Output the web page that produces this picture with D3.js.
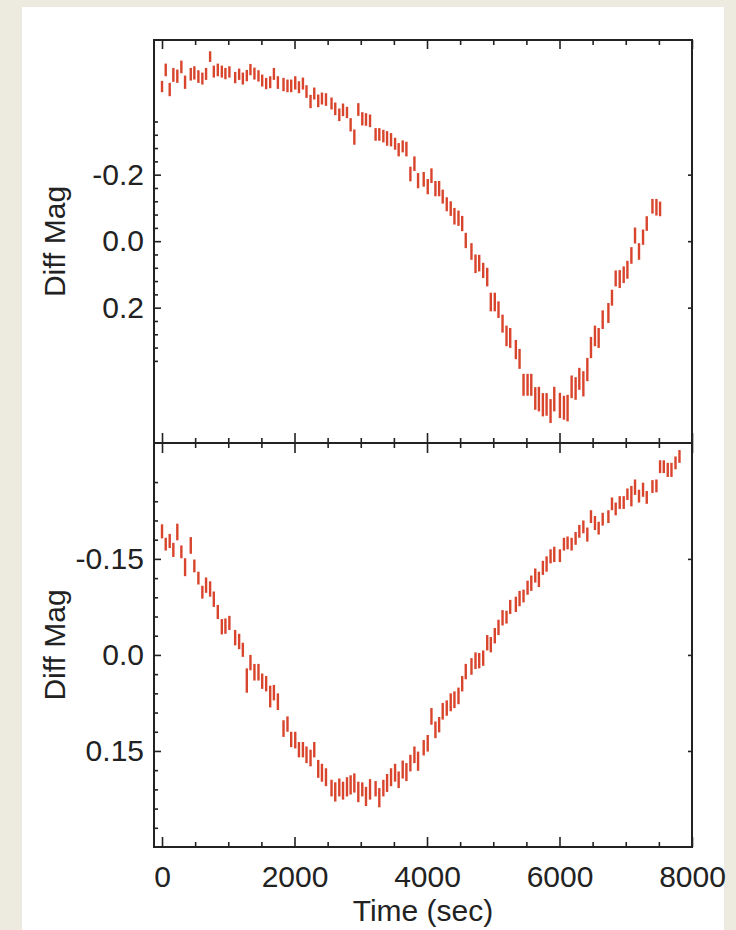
<!DOCTYPE html>
<html><head><meta charset="utf-8">
<script src="https://cdn.jsdelivr.net/npm/d3@7"></script>
<style>html,body{margin:0;padding:0;background:#edeae0;overflow:hidden}</style>
</head><body>
<svg id="chart" width="736" height="930"></svg>
<script>
// ---------- data ----------
const timeSec = [0,56,116,171,231,292,348,434,488,549,
609,665,726,782,842,903,957,1017,1104,1164,
1220,1280,1335,1395,1456,1512,1572,1633,1689,1749,
1834,1894,1950,2011,2067,2127,2181,2242,2298,2358,
2414,2475,2559,2615,2676,2732,2792,2847,2903,2963,
3023,3079,3140,3224,3280,3341,3397,3457,3518,3572,
3633,3689,3749,3810,3865,3950,4011,4067,4127,4183,
4237,4298,4358,4414,4475,4531,4585,4671,4732,4788,
4848,4909,4963,5023,5079,5140,5200,5256,5341,5397,
5457,5518,5574,5634,5689,5749,5805,5865,5921,6006,
6067,6122,6183,6243,6299,6360,6420,6475,6535,6591,
6652,6738,6792,6848,6909,6969,7025,7085,7140,7200,
7261,7317,7403,7463,7518,7574,7634,7690,7751,7811];

const magTop = [-0.465,-0.515,-0.456,-0.500,-0.496,-0.524,-0.478,-0.502,-0.506,-0.495,
-0.489,-0.503,-0.555,-0.510,-0.515,-0.510,-0.504,-0.509,-0.492,-0.502,
-0.489,-0.498,-0.516,-0.504,-0.497,-0.483,-0.474,-0.478,-0.503,-0.477,
-0.471,-0.467,-0.467,-0.476,-0.463,-0.474,-0.450,-0.420,-0.444,-0.422,
-0.429,-0.426,-0.414,-0.398,-0.380,-0.395,-0.387,-0.350,-0.313,-0.396,
-0.368,-0.366,-0.362,-0.321,-0.321,-0.316,-0.309,-0.305,-0.293,-0.275,
-0.285,-0.277,-0.202,-0.233,-0.182,-0.186,-0.164,-0.197,-0.158,-0.158,
-0.134,-0.111,-0.098,-0.075,-0.069,-0.053,-0.002,0.031,0.068,0.066,
0.088,0.108,0.183,0.183,0.206,0.248,0.285,0.291,0.326,0.354,
0.432,0.432,0.432,0.473,0.475,0.492,0.491,0.511,0.475,0.494,
0.501,0.502,0.438,0.443,0.414,0.429,0.386,0.320,0.285,0.291,
0.236,0.216,0.170,0.112,0.114,0.101,0.086,0.043,-0.017,0.031,
-0.012,-0.053,-0.105,-0.102,-0.097];

const errTop = [0.017,0.019,0.020,0.021,0.020,0.019,0.020,0.019,0.020,0.019,
0.018,0.018,0.016,0.018,0.019,0.018,0.017,0.017,0.017,0.017,
0.018,0.017,0.017,0.018,0.017,0.018,0.017,0.018,0.018,0.019,
0.020,0.019,0.019,0.020,0.018,0.018,0.019,0.020,0.018,0.019,
0.018,0.019,0.018,0.019,0.019,0.019,0.017,0.020,0.023,0.019,
0.020,0.019,0.019,0.019,0.019,0.019,0.022,0.020,0.018,0.020,
0.018,0.022,0.022,0.022,0.023,0.022,0.023,0.022,0.023,0.023,
0.021,0.021,0.022,0.025,0.023,0.023,0.023,0.025,0.028,0.025,
0.023,0.028,0.028,0.028,0.025,0.027,0.031,0.030,0.029,0.030,
0.033,0.033,0.033,0.034,0.037,0.035,0.034,0.036,0.037,0.038,
0.036,0.040,0.034,0.034,0.033,0.038,0.035,0.032,0.031,0.030,
0.028,0.030,0.024,0.024,0.027,0.025,0.027,0.025,0.024,0.025,
0.023,0.022,0.022,0.025,0.022];

const magBottom = [-0.193,-0.173,-0.178,-0.164,-0.192,-0.161,-0.137,-0.171,-0.139,-0.120,
-0.098,-0.109,-0.103,-0.087,-0.067,-0.044,-0.045,-0.050,-0.027,-0.021,
-0.008,0.040,0.012,0.027,0.027,0.041,0.045,0.065,0.059,0.073,
0.115,0.108,0.132,0.133,0.148,0.148,0.156,0.161,0.148,0.178,
0.184,0.191,0.208,0.214,0.207,0.212,0.206,0.203,0.200,0.214,
0.210,0.221,0.210,0.209,0.223,0.208,0.200,0.191,0.184,0.195,
0.179,0.183,0.169,0.156,0.166,0.145,0.138,0.096,0.117,0.109,
0.088,0.083,0.074,0.070,0.064,0.045,0.026,0.018,0.009,0.009,
0.005,-0.019,-0.016,-0.030,-0.043,-0.058,-0.059,-0.075,-0.079,-0.088,
-0.092,-0.105,-0.112,-0.124,-0.118,-0.136,-0.142,-0.154,-0.157,-0.155,
-0.173,-0.175,-0.173,-0.182,-0.193,-0.200,-0.188,-0.216,-0.206,-0.198,
-0.212,-0.216,-0.236,-0.228,-0.238,-0.238,-0.251,-0.248,-0.262,-0.248,
-0.258,-0.246,-0.263,-0.264,-0.294,-0.294,-0.289,-0.289,-0.300,-0.310];

const errBottom = [0.011,0.010,0.011,0.011,0.013,0.010,0.014,0.013,0.010,0.010,
0.010,0.012,0.012,0.012,0.011,0.012,0.012,0.011,0.012,0.012,
0.011,0.019,0.012,0.013,0.013,0.012,0.012,0.017,0.012,0.013,
0.013,0.012,0.012,0.013,0.012,0.012,0.013,0.013,0.012,0.014,
0.014,0.014,0.013,0.015,0.014,0.014,0.015,0.015,0.015,0.016,
0.011,0.015,0.016,0.012,0.015,0.013,0.014,0.014,0.014,0.013,
0.014,0.014,0.013,0.013,0.015,0.012,0.013,0.013,0.013,0.012,
0.013,0.012,0.014,0.013,0.013,0.012,0.012,0.013,0.013,0.012,
0.012,0.012,0.012,0.012,0.012,0.012,0.010,0.011,0.012,0.012,
0.010,0.011,0.012,0.011,0.012,0.011,0.012,0.011,0.012,0.010,
0.010,0.010,0.010,0.010,0.010,0.010,0.011,0.010,0.011,0.010,
0.010,0.010,0.010,0.010,0.010,0.010,0.009,0.016,0.012,0.010,
0.011,0.010,0.010,0.010,0.010,0.010,0.011,0.011,0.010,0.010];

const xTickValues = [0,2000,4000,6000,8000];
const xTickLabels = ["0","2000","4000","6000","8000"];
const xMinorValues = [500,1000,1500,2500,3000,3500,4500,5000,5500,6500,7000,7500];
const topTickValues = [-0.2,0,0.2];
const topTickLabels = ["-0.2","0.0","0.2"];
const topMinorValues = [-0.36,-0.32,-0.28,-0.24,-0.16,-0.12,-0.08,-0.04,0.04,0.08,0.12,0.16,0.24,0.28,0.32,0.36];
const bottomTickValues = [-0.15,0,0.15];
const bottomTickLabels = ["-0.15","0.0","0.15"];
const bottomMinorValues = [-0.27,-0.24,-0.21,-0.18,-0.12,-0.09,-0.06,-0.03,0.03,0.06,0.09,0.12,0.18,0.21,0.24,0.27];
const xTitle = "Time (sec)";
const yTitle = "Diff Mag";

// ---------- layout ----------
const FONT = "'Liberation Sans', Arial, Helvetica, sans-serif";
const L = 154, R = 692, T = 40, M = 443, B = 847;
const barColor = "#d8442c";
const axisColor = "#222";

const svg = d3.select("#chart");
svg.append("rect").attr("x",22).attr("y",7).attr("width",702).attr("height",923).attr("fill","#ffffff");

const x = d3.scaleLinear().domain([-121, 8000]).range([L, R]);
const yTop = d3.scaleLinear().domain([-0.605, 0.607]).range([T, M]);
const yBot = d3.scaleLinear().domain([-0.331, 0.300]).range([M, B]);

const topData = magTop.map((m,i)=>({t: timeSec[i], m, e: errTop[i]}));
const botData = magBottom.map((m,i)=>({t: timeSec[i], m, e: errBottom[i]}));

function bars(data, y){
  svg.append("g").selectAll("line").data(data).join("line")
    .attr("x1", d=>x(d.t)).attr("x2", d=>x(d.t))
    .attr("y1", d=>y(d.m - d.e)).attr("y2", d=>y(d.m + d.e))
    .attr("stroke", barColor).attr("stroke-width", 2.4);
}
bars(topData, yTop);
bars(botData, yBot);

function style(g){
  g.select(".domain").remove();
  g.selectAll("line").attr("stroke", axisColor).attr("stroke-width", 1.6);
  g.selectAll("text").attr("font-size", 30).attr("font-family", FONT).attr("fill", "#222");
}
function addAxis(axis, tx, ty){
  const g = svg.append("g").attr("transform", `translate(${tx},${ty})`).call(axis);
  style(g);
  return g;
}
const none = () => "";

// x ticks: top of top panel
addAxis(d3.axisTop(x).tickValues(xTickValues).tickSize(-9).tickFormat(none), 0, T);
addAxis(d3.axisTop(x).tickValues(xMinorValues).tickSize(-5).tickFormat(none), 0, T);
// shared boundary: ticks both ways
addAxis(d3.axisBottom(x).tickValues(xTickValues).tickSize(10).tickFormat(none), 0, M);
addAxis(d3.axisTop(x).tickValues(xTickValues).tickSize(10).tickFormat(none), 0, M);
addAxis(d3.axisBottom(x).tickValues(xMinorValues).tickSize(5).tickFormat(none), 0, M);
addAxis(d3.axisTop(x).tickValues(xMinorValues).tickSize(5).tickFormat(none), 0, M);
// bottom axis with labels
addAxis(d3.axisBottom(x).tickValues(xTickValues).tickSize(-10).tickPadding(19)
  .tickFormat(d => xTickLabels[xTickValues.indexOf(d)]), 0, B);
addAxis(d3.axisBottom(x).tickValues(xMinorValues).tickSize(-5).tickFormat(none), 0, B);

// y axes top panel
addAxis(d3.axisLeft(yTop).tickValues(topTickValues).tickSize(-7).tickPadding(10)
  .tickFormat(d => topTickLabels[topTickValues.indexOf(d)]), L, 0);
addAxis(d3.axisLeft(yTop).tickValues(topMinorValues).tickSize(-4).tickFormat(none), L, 0);
addAxis(d3.axisRight(yTop).tickValues(topTickValues).tickSize(-4).tickFormat(none), R, 0);
// y axes bottom panel
addAxis(d3.axisLeft(yBot).tickValues(bottomTickValues).tickSize(-7).tickPadding(10)
  .tickFormat(d => bottomTickLabels[bottomTickValues.indexOf(d)]), L, 0);
addAxis(d3.axisLeft(yBot).tickValues(bottomMinorValues).tickSize(-4).tickFormat(none), L, 0);
addAxis(d3.axisRight(yBot).tickValues(bottomTickValues).tickSize(-4).tickFormat(none), R, 0);

// frames
svg.append("rect").attr("x",L).attr("y",T).attr("width",R-L).attr("height",M-T)
  .attr("fill","none").attr("stroke",axisColor).attr("stroke-width",2);
svg.append("rect").attr("x",L).attr("y",M).attr("width",R-L).attr("height",B-M)
  .attr("fill","none").attr("stroke",axisColor).attr("stroke-width",2);

// titles
svg.append("text").attr("x",(L+R)/2).attr("y",921).attr("text-anchor","middle")
  .attr("font-family",FONT).attr("font-size",30).attr("fill","#222").text(xTitle);
[[ (T+M)/2 ],[ (M+B)/2 ]].forEach(([cy])=>{
  svg.append("text").attr("transform",`translate(65,${cy}) rotate(-90)`).attr("text-anchor","middle")
    .attr("font-family",FONT).attr("font-size",30).attr("fill","#222").text(yTitle);
});
</script>
</body></html>
